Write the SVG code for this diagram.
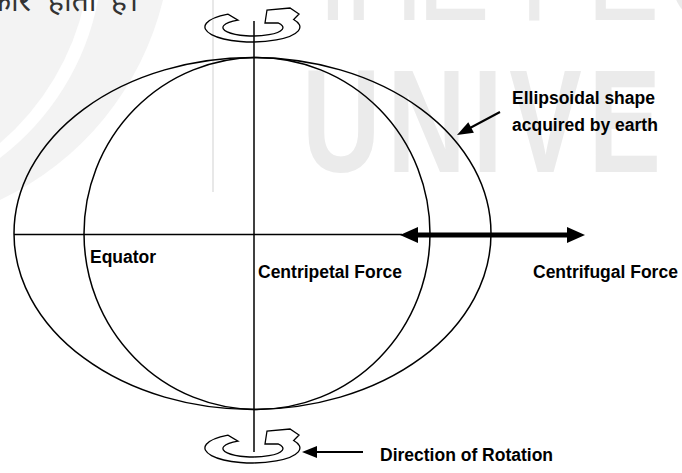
<svg xmlns="http://www.w3.org/2000/svg" width="682" height="473" viewBox="0 0 682 473">
<style>
.ln{fill:none;stroke:#000;stroke-width:1.5}
.lbl{font-family:"Liberation Sans",Arial,sans-serif;font-weight:bold;font-size:17.5px;fill:#000}
.wm{fill:#ebebeb;font-family:"Liberation Sans",Arial,sans-serif;font-size:147px}
.sym{fill:none;stroke:#000;stroke-width:1.3;stroke-linejoin:miter}
</style>
<defs>
<path id="rot" d="M228,14.1 A47.5,15 0 1 0 293.6,19.5 L299,14 L290,8 L267,10 L265,23 L278,22.8 A30,8.5 0 1 1 238,20.1 Z"/>
</defs>
<g id="watermark">
<path d="M0,0 L85,0 A260,260 0 0 1 0,143 Z" fill="#f3f3f3"/>
<path d="M98,0 L163,0 A300,300 0 0 1 0,200 L0,158 A260,260 0 0 0 98,0 Z" fill="#f3f3f3"/>
<rect x="212" y="0" width="2" height="192" fill="#e8e8e8"/>
<text class="wm" transform="translate(302,172) scale(0.74,1)" font-weight="bold" letter-spacing="9">UNIVE</text>
<text class="wm" transform="translate(0,20) scale(0.74,1)" x="405 466 564 703 793 899">THEPEO</text>
</g>
<text y="11" font-family="Noto Sans,DejaVu Sans,sans-serif" font-size="30" fill="#333"><tspan x="-12">कार</tspan> <tspan x="48">होता</tspan> <tspan x="111">है।</tspan></text>
<g id="earth">
<ellipse id="outer-ellipse" class="ln" cx="252.5" cy="233.5" rx="238.5" ry="176"/>
<ellipse id="inner-circle" class="ln" cx="257" cy="233.5" rx="173" ry="176"/>
</g>
<g id="connectors">
<line class="ln" x1="254" y1="21" x2="254" y2="452"/>
<line class="ln" x1="14" y1="234.5" x2="402" y2="234.5"/>
<line x1="416" y1="235" x2="569" y2="235" stroke="#000" stroke-width="5"/>
<polygon points="400,235 418,227 418,243" fill="#000"/>
<polygon points="585,235 567,227 567,243" fill="#000"/>
<line x1="500" y1="112" x2="469" y2="128.5" stroke="#000" stroke-width="2"/>
<polygon points="457,135 473.9,132.8 468.3,122.2" fill="#000"/>
<line x1="363" y1="452" x2="314" y2="452" stroke="#000" stroke-width="2"/>
<polygon points="302,452 317,446 317,458" fill="#000"/>
</g>
<g id="rotation-top"><use href="#rot" class="sym"/></g>
<g id="rotation-bottom"><use href="#rot" class="sym" transform="translate(0,421)"/></g>
<g id="labels">
<text class="lbl" x="512" y="104">Ellipsoidal shape</text>
<text class="lbl" x="512" y="131">acquired by earth</text>
<text class="lbl" x="90" y="263">Equator</text>
<text class="lbl" x="258" y="278">Centripetal Force</text>
<text class="lbl" x="533" y="278">Centrifugal Force</text>
<text class="lbl" x="380" y="461">Direction of Rotation</text>
</g>
</svg>
